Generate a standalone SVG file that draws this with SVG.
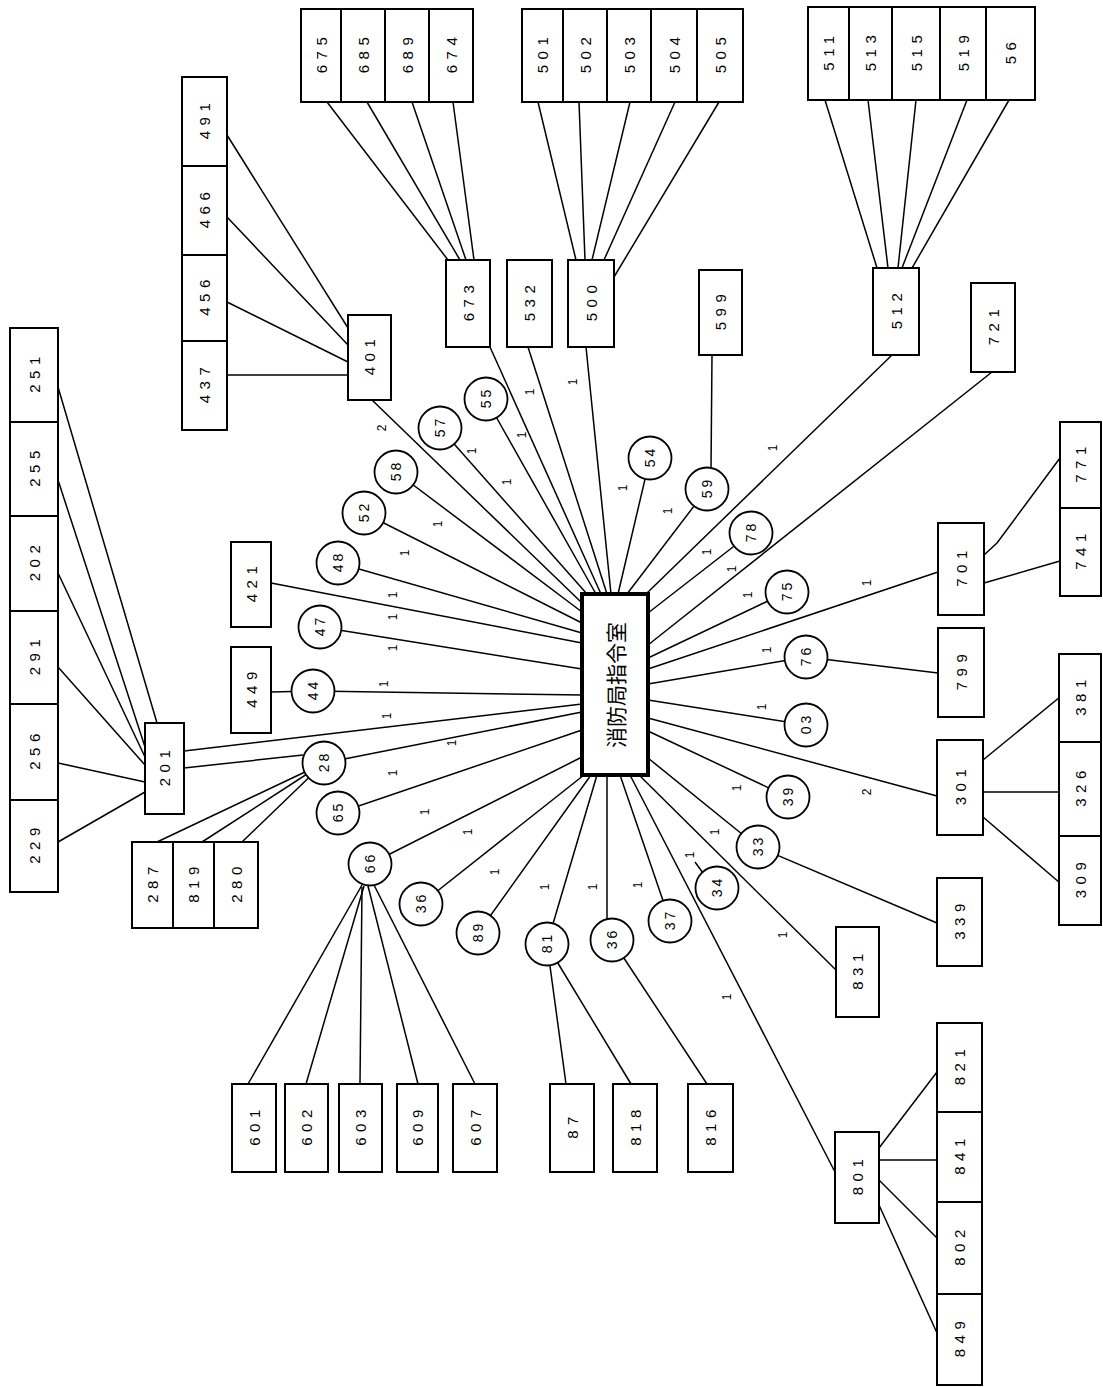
<svg xmlns="http://www.w3.org/2000/svg" width="1103" height="1387" viewBox="0 0 1103 1387">
<style>
.b{fill:#fff;stroke:#000;stroke-width:2}
.c{fill:#fff;stroke:#000;stroke-width:1.8}
.k{fill:#fff;stroke:#000;stroke-width:4}
#connectors line,#connectors polyline{stroke:#000;stroke-width:1.5;fill:none}
.t{font-family:"Liberation Sans",Arial,sans-serif;font-size:15px;letter-spacing:5.5px;text-anchor:middle;dominant-baseline:central;fill:#000}
.s{font-family:"Liberation Sans",Arial,sans-serif;font-size:14px;letter-spacing:3px;text-anchor:middle;dominant-baseline:central;fill:#000}
.o{font-family:"Liberation Sans",Arial,sans-serif;font-size:12px;text-anchor:middle;dominant-baseline:central;fill:#000}
.m{font-family:"Noto Sans CJK JP","Noto Sans CJK SC",sans-serif;font-size:21px;text-anchor:middle;dominant-baseline:central;fill:#000}
</style>
<rect width="1103" height="1387" fill="#fff"/>
<g id="connectors">
<line x1="490" y1="347" x2="601" y2="594"/>
<line x1="528" y1="347" x2="607" y2="594"/>
<line x1="586" y1="347" x2="611" y2="594"/>
<line x1="486" y1="399" x2="596" y2="594"/>
<line x1="440" y1="428" x2="587" y2="594"/>
<line x1="372" y1="400" x2="582" y2="603"/>
<line x1="396" y1="472" x2="582" y2="612"/>
<line x1="364" y1="513" x2="582" y2="623"/>
<line x1="338" y1="563" x2="582" y2="633"/>
<line x1="271" y1="583" x2="582" y2="643"/>
<line x1="320" y1="627" x2="582" y2="669"/>
<line x1="313" y1="691" x2="582" y2="695"/>
<line x1="271" y1="692" x2="313" y2="691"/>
<line x1="184" y1="751" x2="582" y2="704"/>
<line x1="184" y1="768" x2="303" y2="755"/>
<line x1="324" y1="763" x2="582" y2="712"/>
<line x1="338" y1="813" x2="582" y2="730"/>
<line x1="370" y1="864" x2="582" y2="757"/>
<line x1="421" y1="904" x2="584" y2="775"/>
<line x1="478" y1="933" x2="591" y2="775"/>
<line x1="547" y1="944" x2="597" y2="775"/>
<line x1="607" y1="775" x2="607" y2="920"/>
<line x1="670" y1="921" x2="620" y2="775"/>
<line x1="630" y1="775" x2="835" y2="1172"/>
<line x1="639" y1="775" x2="836" y2="970"/>
<line x1="758" y1="847" x2="648" y2="758"/>
<line x1="788" y1="797" x2="648" y2="731"/>
<line x1="937" y1="796" x2="648" y2="718"/>
<line x1="806" y1="725" x2="648" y2="700"/>
<line x1="806" y1="657" x2="648" y2="684"/>
<line x1="938" y1="572" x2="648" y2="669"/>
<line x1="787" y1="592" x2="648" y2="658"/>
<line x1="992" y1="372" x2="648" y2="645"/>
<line x1="751" y1="533" x2="648" y2="613"/>
<line x1="892" y1="355" x2="646" y2="594"/>
<line x1="707" y1="489" x2="627" y2="594"/>
<line x1="650" y1="458" x2="618" y2="594"/>
<line x1="712" y1="355" x2="711" y2="469"/>
<line x1="806" y1="657" x2="938" y2="673"/>
<line x1="758" y1="847" x2="937" y2="923"/>
<line x1="695" y1="862" x2="703" y2="873"/>
<line x1="227" y1="135" x2="348" y2="328"/>
<line x1="227" y1="217" x2="348" y2="345"/>
<line x1="227" y1="302" x2="348" y2="362"/>
<line x1="227" y1="375" x2="348" y2="375"/>
<line x1="327" y1="102" x2="448" y2="260"/>
<line x1="367" y1="102" x2="460" y2="260"/>
<line x1="412" y1="102" x2="466" y2="260"/>
<line x1="453" y1="102" x2="474" y2="260"/>
<line x1="538" y1="102" x2="576" y2="260"/>
<line x1="579" y1="102" x2="585" y2="260"/>
<line x1="630" y1="102" x2="592" y2="260"/>
<line x1="675" y1="102" x2="604" y2="260"/>
<line x1="719" y1="102" x2="614" y2="277"/>
<line x1="825" y1="100" x2="877" y2="268"/>
<line x1="868" y1="100" x2="888" y2="268"/>
<line x1="916" y1="100" x2="898" y2="268"/>
<line x1="967" y1="100" x2="902" y2="268"/>
<line x1="1009" y1="100" x2="912" y2="268"/>
<line x1="58" y1="387" x2="157" y2="723"/>
<line x1="58" y1="480" x2="145" y2="747"/>
<line x1="58" y1="573" x2="145" y2="757"/>
<line x1="58" y1="667" x2="145" y2="765"/>
<line x1="58" y1="763" x2="145" y2="782"/>
<line x1="58" y1="842" x2="145" y2="792"/>
<line x1="157" y1="842" x2="324" y2="763"/>
<line x1="202" y1="842" x2="324" y2="763"/>
<line x1="242" y1="842" x2="324" y2="763"/>
<line x1="248" y1="1084" x2="362" y2="885"/>
<line x1="306" y1="1084" x2="364" y2="886"/>
<line x1="360" y1="1084" x2="362" y2="887"/>
<line x1="418" y1="1084" x2="368" y2="886"/>
<line x1="475" y1="1084" x2="374" y2="885"/>
<line x1="566" y1="1084" x2="547" y2="944"/>
<line x1="631" y1="1084" x2="550" y2="950"/>
<line x1="707" y1="1084" x2="612" y2="940"/>
<polyline points="984,555 997,543 1060,458"/>
<line x1="984" y1="583" x2="1060" y2="561"/>
<line x1="983" y1="760" x2="1060" y2="697"/>
<line x1="983" y1="792" x2="1060" y2="792"/>
<line x1="983" y1="817" x2="1060" y2="883"/>
<line x1="879" y1="1148" x2="937" y2="1072"/>
<line x1="879" y1="1160" x2="937" y2="1160"/>
<line x1="879" y1="1180" x2="937" y2="1238"/>
<line x1="879" y1="1205" x2="937" y2="1333"/>
</g>
<g id="edge-labels">
<text class="o" transform="translate(530 392) rotate(-90)">1</text>
<text class="o" transform="translate(573 382) rotate(-90)">1</text>
<text class="o" transform="translate(522 435) rotate(-90)">1</text>
<text class="o" transform="translate(472 451) rotate(-90)">1</text>
<text class="o" transform="translate(507 482) rotate(-90)">1</text>
<text class="o" transform="translate(438 524) rotate(-90)">1</text>
<text class="o" transform="translate(405 553) rotate(-90)">1</text>
<text class="o" transform="translate(393 595) rotate(-90)">1</text>
<text class="o" transform="translate(393 617) rotate(-90)">1</text>
<text class="o" transform="translate(393 648) rotate(-90)">1</text>
<text class="o" transform="translate(384 684) rotate(-90)">1</text>
<text class="o" transform="translate(387 716) rotate(-90)">1</text>
<text class="o" transform="translate(452 743) rotate(-90)">1</text>
<text class="o" transform="translate(393 773) rotate(-90)">1</text>
<text class="o" transform="translate(425 812) rotate(-90)">1</text>
<text class="o" transform="translate(468 832) rotate(-90)">1</text>
<text class="o" transform="translate(495 872) rotate(-90)">1</text>
<text class="o" transform="translate(545 887) rotate(-90)">1</text>
<text class="o" transform="translate(593 887) rotate(-90)">1</text>
<text class="o" transform="translate(638 885) rotate(-90)">1</text>
<text class="o" transform="translate(715 832) rotate(-90)">1</text>
<text class="o" transform="translate(690 855) rotate(-90)">1</text>
<text class="o" transform="translate(727 997) rotate(-90)">1</text>
<text class="o" transform="translate(762 707) rotate(-90)">1</text>
<text class="o" transform="translate(737 788) rotate(-90)">1</text>
<text class="o" transform="translate(783 935) rotate(-90)">1</text>
<text class="o" transform="translate(773 448) rotate(-90)">1</text>
<text class="o" transform="translate(732 569) rotate(-90)">1</text>
<text class="o" transform="translate(748 595) rotate(-90)">1</text>
<text class="o" transform="translate(767 650) rotate(-90)">1</text>
<text class="o" transform="translate(867 583) rotate(-90)">1</text>
<text class="o" transform="translate(623 488) rotate(-90)">1</text>
<text class="o" transform="translate(668 511) rotate(-90)">1</text>
<text class="o" transform="translate(707 552) rotate(-90)">1</text>
<text class="o" transform="translate(382 428) rotate(-90)">2</text>
<text class="o" transform="translate(867 792) rotate(-90)">2</text>
</g>
<g id="n-center"><rect class="k" x="582" y="594" width="66" height="181"/><text class="m" transform="translate(615 685) rotate(-90)">消防局指令室</text></g>
<g id="n-675"><rect class="b" x="301" y="9" width="40" height="93"/><text class="t" x="3" transform="translate(321 55.5) rotate(-90)">675</text></g>
<g id="n-685"><rect class="b" x="341" y="9" width="44" height="93"/><text class="t" x="3" transform="translate(363 55.5) rotate(-90)">685</text></g>
<g id="n-689"><rect class="b" x="385" y="9" width="44" height="93"/><text class="t" x="3" transform="translate(407 55.5) rotate(-90)">689</text></g>
<g id="n-674"><rect class="b" x="429" y="9" width="44" height="93"/><text class="t" x="3" transform="translate(451 55.5) rotate(-90)">674</text></g>
<g id="n-501"><rect class="b" x="522" y="9" width="41" height="93"/><text class="t" x="3" transform="translate(542.5 55.5) rotate(-90)">501</text></g>
<g id="n-502"><rect class="b" x="563" y="9" width="44" height="93"/><text class="t" x="3" transform="translate(585 55.5) rotate(-90)">502</text></g>
<g id="n-503"><rect class="b" x="607" y="9" width="44" height="93"/><text class="t" x="3" transform="translate(629 55.5) rotate(-90)">503</text></g>
<g id="n-504"><rect class="b" x="651" y="9" width="46" height="93"/><text class="t" x="3" transform="translate(674 55.5) rotate(-90)">504</text></g>
<g id="n-505"><rect class="b" x="697" y="9" width="46" height="93"/><text class="t" x="3" transform="translate(720 55.5) rotate(-90)">505</text></g>
<g id="n-511"><rect class="b" x="808" y="7" width="41" height="93"/><text class="t" x="3" transform="translate(828.5 53.5) rotate(-90)">511</text></g>
<g id="n-513"><rect class="b" x="849" y="7" width="43" height="93"/><text class="t" x="3" transform="translate(870.5 53.5) rotate(-90)">513</text></g>
<g id="n-515"><rect class="b" x="892" y="7" width="48" height="93"/><text class="t" x="3" transform="translate(916 53.5) rotate(-90)">515</text></g>
<g id="n-519"><rect class="b" x="940" y="7" width="46" height="93"/><text class="t" x="3" transform="translate(963 53.5) rotate(-90)">519</text></g>
<g id="n-56"><rect class="b" x="986" y="7" width="49" height="93"/><text class="t" x="3" transform="translate(1010.5 53.5) rotate(-90)">56</text></g>
<g id="n-491"><rect class="b" x="182" y="77" width="45" height="89"/><text class="t" x="3" transform="translate(204.5 121.5) rotate(-90)">491</text></g>
<g id="n-466"><rect class="b" x="182" y="166" width="45" height="89"/><text class="t" x="3" transform="translate(204.5 210.5) rotate(-90)">466</text></g>
<g id="n-456"><rect class="b" x="182" y="255" width="45" height="86"/><text class="t" x="3" transform="translate(204.5 298) rotate(-90)">456</text></g>
<g id="n-437"><rect class="b" x="182" y="341" width="45" height="89"/><text class="t" x="3" transform="translate(204.5 385.5) rotate(-90)">437</text></g>
<g id="n-673"><rect class="b" x="446" y="260" width="44" height="87"/><text class="t" x="3" transform="translate(468 303.5) rotate(-90)">673</text></g>
<g id="n-532"><rect class="b" x="507" y="260" width="45" height="87"/><text class="t" x="3" transform="translate(529.5 303.5) rotate(-90)">532</text></g>
<g id="n-500"><rect class="b" x="568" y="260" width="46" height="87"/><text class="t" x="3" transform="translate(591 303.5) rotate(-90)">500</text></g>
<g id="n-599"><rect class="b" x="699" y="270" width="43" height="85"/><text class="t" x="3" transform="translate(720.5 312.5) rotate(-90)">599</text></g>
<g id="n-512"><rect class="b" x="873" y="268" width="46" height="87"/><text class="t" x="3" transform="translate(896 311.5) rotate(-90)">512</text></g>
<g id="n-721"><rect class="b" x="971" y="283" width="44" height="89"/><text class="t" x="3" transform="translate(993 327.5) rotate(-90)">721</text></g>
<g id="n-401"><rect class="b" x="348" y="315" width="43" height="85"/><text class="t" x="3" transform="translate(369.5 357.5) rotate(-90)">401</text></g>
<g id="n-251"><rect class="b" x="10" y="328" width="48" height="94"/><text class="t" x="3" transform="translate(34 375) rotate(-90)">251</text></g>
<g id="n-255"><rect class="b" x="10" y="422" width="48" height="94"/><text class="t" x="3" transform="translate(34 469) rotate(-90)">255</text></g>
<g id="n-202"><rect class="b" x="10" y="516" width="48" height="95"/><text class="t" x="3" transform="translate(34 563.5) rotate(-90)">202</text></g>
<g id="n-291"><rect class="b" x="10" y="611" width="48" height="93"/><text class="t" x="3" transform="translate(34 657.5) rotate(-90)">291</text></g>
<g id="n-256"><rect class="b" x="10" y="704" width="48" height="96"/><text class="t" x="3" transform="translate(34 752) rotate(-90)">256</text></g>
<g id="n-229"><rect class="b" x="10" y="800" width="48" height="92"/><text class="t" x="3" transform="translate(34 846) rotate(-90)">229</text></g>
<g id="n-421"><rect class="b" x="231" y="542" width="40" height="85"/><text class="t" x="3" transform="translate(251 584.5) rotate(-90)">421</text></g>
<g id="n-449"><rect class="b" x="231" y="647" width="40" height="86"/><text class="t" x="3" transform="translate(251 690) rotate(-90)">449</text></g>
<g id="n-201"><rect class="b" x="145" y="723" width="39" height="91"/><text class="t" x="3" transform="translate(164.5 768.5) rotate(-90)">201</text></g>
<g id="n-287"><rect class="b" x="132" y="842" width="41" height="86"/><text class="t" x="3" transform="translate(152.5 885) rotate(-90)">287</text></g>
<g id="n-819"><rect class="b" x="173" y="842" width="41" height="86"/><text class="t" x="3" transform="translate(193.5 885) rotate(-90)">819</text></g>
<g id="n-280"><rect class="b" x="214" y="842" width="44" height="86"/><text class="t" x="3" transform="translate(236 885) rotate(-90)">280</text></g>
<g id="n-701"><rect class="b" x="938" y="523" width="46" height="92"/><text class="t" x="3" transform="translate(961 569) rotate(-90)">701</text></g>
<g id="n-799"><rect class="b" x="938" y="628" width="46" height="89"/><text class="t" x="3" transform="translate(961 672.5) rotate(-90)">799</text></g>
<g id="n-771"><rect class="b" x="1060" y="422" width="41" height="86"/><text class="t" x="3" transform="translate(1080.5 465) rotate(-90)">771</text></g>
<g id="n-741"><rect class="b" x="1060" y="508" width="41" height="88"/><text class="t" x="3" transform="translate(1080.5 552) rotate(-90)">741</text></g>
<g id="n-301"><rect class="b" x="937" y="740" width="46" height="95"/><text class="t" x="3" transform="translate(960 787.5) rotate(-90)">301</text></g>
<g id="n-381"><rect class="b" x="1059" y="654" width="42" height="88"/><text class="t" x="3" transform="translate(1080 698) rotate(-90)">381</text></g>
<g id="n-326"><rect class="b" x="1059" y="742" width="42" height="94"/><text class="t" x="3" transform="translate(1080 789) rotate(-90)">326</text></g>
<g id="n-309"><rect class="b" x="1059" y="836" width="42" height="89"/><text class="t" x="3" transform="translate(1080 880.5) rotate(-90)">309</text></g>
<g id="n-339"><rect class="b" x="937" y="878" width="45" height="88"/><text class="t" x="3" transform="translate(959.5 922) rotate(-90)">339</text></g>
<g id="n-831"><rect class="b" x="836" y="927" width="43" height="90"/><text class="t" x="3" transform="translate(857.5 972) rotate(-90)">831</text></g>
<g id="n-801"><rect class="b" x="835" y="1132" width="44" height="91"/><text class="t" x="3" transform="translate(857 1177.5) rotate(-90)">801</text></g>
<g id="n-821"><rect class="b" x="937" y="1023" width="45" height="89"/><text class="t" x="3" transform="translate(959.5 1067.5) rotate(-90)">821</text></g>
<g id="n-841"><rect class="b" x="937" y="1112" width="45" height="90"/><text class="t" x="3" transform="translate(959.5 1157) rotate(-90)">841</text></g>
<g id="n-802"><rect class="b" x="937" y="1202" width="45" height="92"/><text class="t" x="3" transform="translate(959.5 1248) rotate(-90)">802</text></g>
<g id="n-849"><rect class="b" x="937" y="1294" width="45" height="91"/><text class="t" x="3" transform="translate(959.5 1339.5) rotate(-90)">849</text></g>
<g id="n-601"><rect class="b" x="232" y="1084" width="44" height="88"/><text class="t" x="3" transform="translate(254 1128) rotate(-90)">601</text></g>
<g id="n-602"><rect class="b" x="285" y="1084" width="43" height="88"/><text class="t" x="3" transform="translate(306.5 1128) rotate(-90)">602</text></g>
<g id="n-603"><rect class="b" x="339" y="1084" width="43" height="88"/><text class="t" x="3" transform="translate(360.5 1128) rotate(-90)">603</text></g>
<g id="n-609"><rect class="b" x="397" y="1084" width="41" height="88"/><text class="t" x="3" transform="translate(417.5 1128) rotate(-90)">609</text></g>
<g id="n-607"><rect class="b" x="453" y="1084" width="44" height="88"/><text class="t" x="3" transform="translate(475 1128) rotate(-90)">607</text></g>
<g id="n-87"><rect class="b" x="550" y="1084" width="44" height="88"/><text class="t" x="3" transform="translate(572 1128) rotate(-90)">87</text></g>
<g id="n-818"><rect class="b" x="613" y="1084" width="44" height="88"/><text class="t" x="3" transform="translate(635 1128) rotate(-90)">818</text></g>
<g id="n-816"><rect class="b" x="688" y="1084" width="45" height="88"/><text class="t" x="3" transform="translate(710.5 1128) rotate(-90)">816</text></g>
<g id="c-55"><circle class="c" cx="486" cy="399" r="21.5"/><text class="s" x="1.5" transform="translate(486 399) rotate(-90)">55</text></g>
<g id="c-57"><circle class="c" cx="440" cy="428" r="21.5"/><text class="s" x="1.5" transform="translate(440 428) rotate(-90)">57</text></g>
<g id="c-58"><circle class="c" cx="396" cy="472" r="21.5"/><text class="s" x="1.5" transform="translate(396 472) rotate(-90)">58</text></g>
<g id="c-52"><circle class="c" cx="364" cy="513" r="21.5"/><text class="s" x="1.5" transform="translate(364 513) rotate(-90)">52</text></g>
<g id="c-48"><circle class="c" cx="338" cy="563" r="21.5"/><text class="s" x="1.5" transform="translate(338 563) rotate(-90)">48</text></g>
<g id="c-47"><circle class="c" cx="320" cy="627" r="21.5"/><text class="s" x="1.5" transform="translate(320 627) rotate(-90)">47</text></g>
<g id="c-44"><circle class="c" cx="313" cy="691" r="21.5"/><text class="s" x="1.5" transform="translate(313 691) rotate(-90)">44</text></g>
<g id="c-28"><circle class="c" cx="324" cy="763" r="21.5"/><text class="s" x="1.5" transform="translate(324 763) rotate(-90)">28</text></g>
<g id="c-65"><circle class="c" cx="338" cy="813" r="21.5"/><text class="s" x="1.5" transform="translate(338 813) rotate(-90)">65</text></g>
<g id="c-66"><circle class="c" cx="370" cy="864" r="21.5"/><text class="s" x="1.5" transform="translate(370 864) rotate(-90)">66</text></g>
<g id="c-36a"><circle class="c" cx="421" cy="904" r="21.5"/><text class="s" x="1.5" transform="translate(421 904) rotate(-90)">36</text></g>
<g id="c-89"><circle class="c" cx="478" cy="933" r="21.5"/><text class="s" x="1.5" transform="translate(478 933) rotate(-90)">89</text></g>
<g id="c-81"><circle class="c" cx="547" cy="944" r="21.5"/><text class="s" x="1.5" transform="translate(547 944) rotate(-90)">81</text></g>
<g id="c-36b"><circle class="c" cx="612" cy="940" r="21.5"/><text class="s" x="1.5" transform="translate(612 940) rotate(-90)">36</text></g>
<g id="c-37"><circle class="c" cx="670" cy="921" r="21.5"/><text class="s" x="1.5" transform="translate(670 921) rotate(-90)">37</text></g>
<g id="c-34"><circle class="c" cx="717" cy="888" r="21.5"/><text class="s" x="1.5" transform="translate(717 888) rotate(-90)">34</text></g>
<g id="c-33"><circle class="c" cx="758" cy="847" r="21.5"/><text class="s" x="1.5" transform="translate(758 847) rotate(-90)">33</text></g>
<g id="c-39"><circle class="c" cx="788" cy="797" r="21.5"/><text class="s" x="1.5" transform="translate(788 797) rotate(-90)">39</text></g>
<g id="c-03"><circle class="c" cx="806" cy="725" r="21.5"/><text class="s" x="1.5" transform="translate(806 725) rotate(-90)">03</text></g>
<g id="c-76"><circle class="c" cx="806" cy="657" r="21.5"/><text class="s" x="1.5" transform="translate(806 657) rotate(-90)">76</text></g>
<g id="c-75"><circle class="c" cx="787" cy="592" r="21.5"/><text class="s" x="1.5" transform="translate(787 592) rotate(-90)">75</text></g>
<g id="c-78"><circle class="c" cx="751" cy="533" r="21.5"/><text class="s" x="1.5" transform="translate(751 533) rotate(-90)">78</text></g>
<g id="c-59"><circle class="c" cx="707" cy="489" r="21.5"/><text class="s" x="1.5" transform="translate(707 489) rotate(-90)">59</text></g>
<g id="c-54"><circle class="c" cx="650" cy="458" r="21.5"/><text class="s" x="1.5" transform="translate(650 458) rotate(-90)">54</text></g>
</svg>
